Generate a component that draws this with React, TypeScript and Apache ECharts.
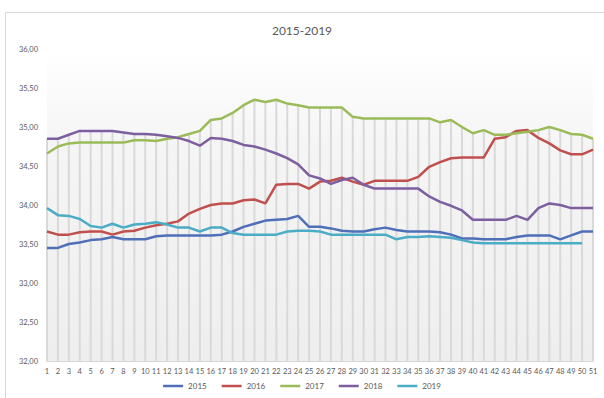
import React, { useEffect, useRef } from "react";
import * as echarts from "echarts";

const title = "2015-2019";

const weeks = [
  "1", "2", "3", "4", "5", "6", "7", "8", "9", "10",
  "11", "12", "13", "14", "15", "16", "17", "18", "19", "20",
  "21", "22", "23", "24", "25", "26", "27", "28", "29", "30",
  "31", "32", "33", "34", "35", "36", "37", "38", "39", "40",
  "41", "42", "43", "44", "45", "46", "47", "48", "49", "50", "51",
];

const s2015 = [
  33.45, 33.45, 33.5, 33.52, 33.55, 33.56, 33.59, 33.56, 33.56, 33.56,
  33.6, 33.61, 33.61, 33.61, 33.61, 33.61, 33.62, 33.66, 33.72, 33.76,
  33.8, 33.81, 33.82, 33.86, 33.72, 33.72, 33.7, 33.67, 33.66, 33.66,
  33.69, 33.71, 33.68, 33.66, 33.66, 33.66, 33.65, 33.62, 33.57, 33.57,
  33.56, 33.56, 33.56, 33.59, 33.61, 33.61, 33.61, 33.56, 33.61, 33.66, 33.66,
];

const s2016 = [
  33.66, 33.62, 33.62, 33.65, 33.66, 33.66, 33.62, 33.66, 33.67, 33.71,
  33.74, 33.76, 33.79, 33.89, 33.95, 34.0, 34.02, 34.02, 34.06, 34.07,
  34.02, 34.26, 34.27, 34.27, 34.21, 34.3, 34.31, 34.35, 34.3, 34.26,
  34.31, 34.31, 34.31, 34.31, 34.36, 34.49, 34.55, 34.6, 34.61, 34.61,
  34.61, 34.85, 34.87, 34.95, 34.96, 34.86, 34.79, 34.7, 34.65, 34.65, 34.71,
];

const s2017 = [
  34.66, 34.75, 34.79, 34.8, 34.8, 34.8, 34.8, 34.8, 34.83, 34.83,
  34.82, 34.85, 34.87, 34.91, 34.95, 35.09, 35.11, 35.18, 35.28, 35.35,
  35.32, 35.35, 35.3, 35.28, 35.25, 35.25, 35.25, 35.25, 35.13, 35.11,
  35.11, 35.11, 35.11, 35.11, 35.11, 35.11, 35.06, 35.09, 35.0, 34.92,
  34.96, 34.9, 34.9, 34.92, 34.94, 34.96, 35.0, 34.96, 34.91, 34.9, 34.85,
];

const s2018 = [
  34.85, 34.85, 34.9, 34.95, 34.95, 34.95, 34.95, 34.93, 34.91, 34.91,
  34.9, 34.88, 34.86, 34.82, 34.76, 34.86, 34.85, 34.82, 34.77, 34.75,
  34.71, 34.66, 34.6, 34.52, 34.38, 34.34, 34.27, 34.32, 34.35, 34.26,
  34.21, 34.21, 34.21, 34.21, 34.21, 34.11, 34.04, 33.99, 33.93, 33.81,
  33.81, 33.81, 33.81, 33.86, 33.81, 33.96, 34.02, 34.0, 33.96, 33.96, 33.96,
];

const s2019 = [
  33.96, 33.87, 33.86, 33.82, 33.73, 33.71, 33.76, 33.71, 33.75, 33.76,
  33.78, 33.75, 33.71, 33.71, 33.66, 33.71, 33.71, 33.64, 33.62, 33.62,
  33.62, 33.62, 33.66, 33.67, 33.67, 33.66, 33.62, 33.62, 33.62, 33.62,
  33.62, 33.62, 33.56, 33.59, 33.59, 33.6, 33.59, 33.58, 33.55, 33.52,
  33.51, 33.51, 33.51, 33.51, 33.51, 33.51, 33.51, 33.51, 33.51, 33.51,
];

const seriesNames = ["2015", "2016", "2017", "2018", "2019"];
const seriesData = [s2015, s2016, s2017, s2018, s2019];
const colors = ["#4F6FB8", "#C0504D", "#9BBB59", "#7D5FA0", "#4BACC6"];

const yMin = 32;
const yMax = 36;
const yStep = 0.5;

export default function App() {
  const ref = useRef<HTMLDivElement>(null);

  useEffect(() => {
    if (!ref.current) return;
    const chart = echarts.init(ref.current, undefined, { renderer: "svg" });
    const font = "Lato, 'Open Sans', sans-serif";

    const maxes = weeks.map((_, i) => {
      let m = -Infinity;
      seriesData.forEach((s) => {
        if (s[i] != null && s[i] > m) m = s[i];
      });
      return [i, m];
    });

    const lineSeries = seriesNames.map((name, k) => ({
      name,
      type: "line",
      data: seriesData[k],
      showSymbol: false,
      symbol: "none",
      smooth: false,
      z: 3,
      lineStyle: { color: colors[k], width: 2.5 },
      itemStyle: { color: colors[k] },
    }));

    chart.setOption({
      animation: false,
      backgroundColor: "#ffffff",
      title: {
        text: title,
        left: "center",
        top: 19,
        textStyle: { fontFamily: font, fontSize: 12, fontWeight: "normal", color: "#595959" },
      },
      graphic: [
        {
          type: "rect",
          shape: { x: 5.5, y: 12.5, width: 620, height: 420 },
          style: { fill: "none", stroke: "#d9d9d9", lineWidth: 1 },
          silent: true,
          z: -1,
        },
      ],
      grid: {
        left: 47,
        right: 11,
        top: 49,
        bottom: 37,
        show: true,
        borderWidth: 0,
        backgroundColor: new echarts.graphic.LinearGradient(0, 0, 0, 1, [
          { offset: 0, color: "#ffffff" },
          { offset: 0.3, color: "#f5f5f5" },
          { offset: 1, color: "#eeeeee" },
        ]),
      },
      legend: {
        data: seriesNames.map((n) => ({ name: n, icon: "rect" })),
        bottom: 3,
        left: "center",
        itemWidth: 20,
        itemHeight: 2.5,
        itemGap: 15,
        textStyle: { fontFamily: font, fontSize: 8, color: "#595959" },
      },
      xAxis: {
        type: "category",
        data: weeks,
        boundaryGap: false,
        axisLine: { show: true, lineStyle: { color: "#d9d9d9" } },
        axisTick: { show: false },
        axisLabel: {
          interval: 0,
          fontFamily: font,
          fontSize: 7.5,
          color: "#595959",
          margin: 6,
        },
        splitLine: { show: false },
      },
      yAxis: {
        type: "value",
        min: yMin,
        max: yMax,
        interval: yStep,
        axisLine: { show: false },
        axisTick: { show: false },
        splitLine: { show: false },
        axisLabel: {
          fontFamily: font,
          fontSize: 7.5,
          color: "#595959",
          margin: 9,
          formatter: (v: number) => v.toFixed(2).replace(".", ","),
        },
      },
      series: [
        {
          type: "custom",
          name: "drop",
          silent: true,
          z: 1,
          data: maxes,
          renderItem: (_params: any, api: any) => {
            const idx = api.value(0);
            const top = api.coord([idx, api.value(1)]);
            const bot = api.coord([idx, yMin]);
            return {
              type: "line",
              shape: { x1: top[0], y1: top[1], x2: bot[0], y2: bot[1] },
              style: { stroke: "#d9d9d9", lineWidth: 2 },
            };
          },
        },
        ...lineSeries,
      ],
    });

    return () => chart.dispose();
  }, []);

  return (
    <div
      ref={ref}
      style={{ position: "absolute", left: 0, top: 0, width: 604, height: 398 }}
    />
  );
}
